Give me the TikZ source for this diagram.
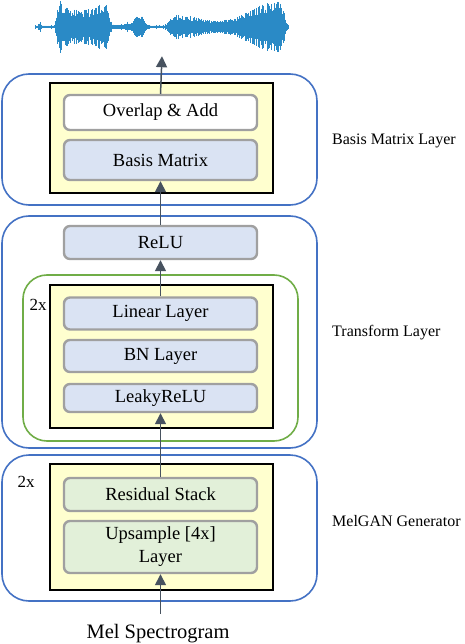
\documentclass[tikz,border=0pt]{standalone}
\usepackage{fontspec}
\setmainfont{Liberation Serif}
\usetikzlibrary{arrows.meta}

\definecolor{layerblue}{HTML}{4472C4}
\definecolor{loopgreen}{HTML}{70AD47}
\definecolor{blockyellow}{HTML}{FFFFCF}
\definecolor{stepgray}{HTML}{A0A0A0}
\definecolor{stepblue}{HTML}{DAE3F3}
\definecolor{stepgreen}{HTML}{E2F0D9}
\definecolor{flowgray}{HTML}{47525F}
\definecolor{wavecol}{HTML}{2A8AC6}

\begin{document}
\begin{tikzpicture}[x=1pt,y=-1pt,
                    every node/.style={font=\fontsize{16}{20}\selectfont},
                    layerbox/.style={draw=layerblue,line width=1.6pt,rounded corners=27pt,minimum width=315},
                    loopbox/.style={draw=loopgreen,line width=1.6pt,rounded corners=24pt},
                    blockbox/.style={draw,fill=blockyellow,line width=1.3pt,minimum width=223},
                    stepbox/.style={draw=stepgray,line width=2.4pt,rounded corners=6pt,minimum width=193,fill=stepblue,align=center,inner sep=0pt,font=\fontsize{18.5}{23}\selectfont},
                    flow/.style={draw=flowgray,line width=1.5pt,-{Triangle[length=11pt,width=11pt]}}
]
\useasboundingbox (0,0) rectangle (464,644);

% outer layers
\node [layerbox, minimum height=131] at (159.5,139.5) (bmlayer) {};
\node [layerbox, minimum height=232] at (159.5,332) (trlayer) {};
\node [layerbox, minimum height=146] at (159.5,528) (mglayer) {};
\node [loopbox, minimum width=275, minimum height=166] at (160.5,358) (trloop) {};
%
\node [blockbox, minimum height=110] at (161.5,138) (bmblock) {};
\node [blockbox, minimum height=143] at (161.5,356.5) (trblock) {};
\node [blockbox, minimum height=126] at (161.5,527) (mgblock) {};

% steps
\node [stepbox, fill=white, minimum height=35] at (160.5,112.5) (ola) {Overlap \& Add};
\node [stepbox, minimum height=40] at (160.5,160) (basis) {Basis Matrix};
\node [stepbox, minimum height=33] at (160.5,242.5) (relu) {ReLU};
\node [stepbox, minimum height=32] at (160.5,313.5) (linear) {Linear Layer};
\node [stepbox, minimum height=32] at (160.5,356) (bn) {BN Layer};
\node [stepbox, minimum height=28] at (160.5,398) (leaky) {LeakyReLU};
\node [stepbox, fill=stepgreen, minimum height=33] at (160.5,494.5) (res) {Residual Stack};
\node [stepbox, fill=stepgreen, minimum height=52] at (160.5,547) (up) {Upsample [4x]\\Layer};

% labels
\node [right, inner sep=0pt] at (332,141) (bmlabel) {Basis Matrix Layer};
\node [right, inner sep=0pt] at (332,333) (trlabel) {Transform Layer};
\node [right, inner sep=0pt] at (332,521) (mglabel) {MelGAN Generator};
\node [font=\fontsize{17}{20}\selectfont] at (38,305) (trrep) {2x};
\node [font=\fontsize{17}{20}\selectfont] at (26,482) (mgrep) {2x};
\node [anchor=base, inner sep=0pt, font=\fontsize{20.5}{24}\selectfont] at (158,638) (mel) {Mel Spectrogram};

% waveform
\node [minimum width=254, minimum height=58, inner sep=0pt] at (162,27) (wave) {};
\pgfmathsetseed{7}
\foreach \xa/\aa/\xb/\ab in {35/1/38/1, 38/1/40/4, 40/4/42/1, 42/1/55/1, 55/1/57/15, 57/15/60/27,
                             60/27/63/20, 63/20/70/18, 70/18/80/16, 80/16/90/18, 90/18/100/22,
                             100/22/107/24, 107/24/110/8, 110/8/113/2, 113/2/125/2, 125/2/127/5,
                             127/5/130/2, 130/2/134/8, 134/8/138/12, 138/12/143/10, 143/10/146/3,
                             146/3/150/1, 150/1/165/1, 165/1/170/8, 170/8/178/12, 178/12/190/10,
                             190/10/200/8, 200/8/210/6, 210/6/220/6, 220/6/235/8, 235/8/240/12,
                             240/12/250/16, 250/16/265/24, 265/24/280/25, 280/25/284/15,
                             284/15/287/3, 287/3/289/1}{
  \pgfmathtruncatemacro\nn{(\xb-\xa)/0.8}
  \foreach \i in {0,...,\nn}{
    \pgfmathsetmacro\xx{\xa+0.8*\i}
    \pgfmathsetmacro\hh{(\aa+(\ab-\aa)*0.8*\i/(\xb-\xa))*(0.55+0.45*rnd)+0.6}
    \draw [wavecol, line width=0.8pt] (\xx,27-\hh) -- (\xx,27+\hh);
  }
}

% flow
\draw [flow] (ola.north) -- (wave.south);
\draw [flow] (relu.north) -- (basis.south);
\draw [flow] (linear.north) -- (relu.south);
\draw [flow] (res.north) -- (leaky.south);
\draw [flow, shorten <=10pt] (mel.north -| up.south) -- (up.south);
\end{tikzpicture}
\end{document}
